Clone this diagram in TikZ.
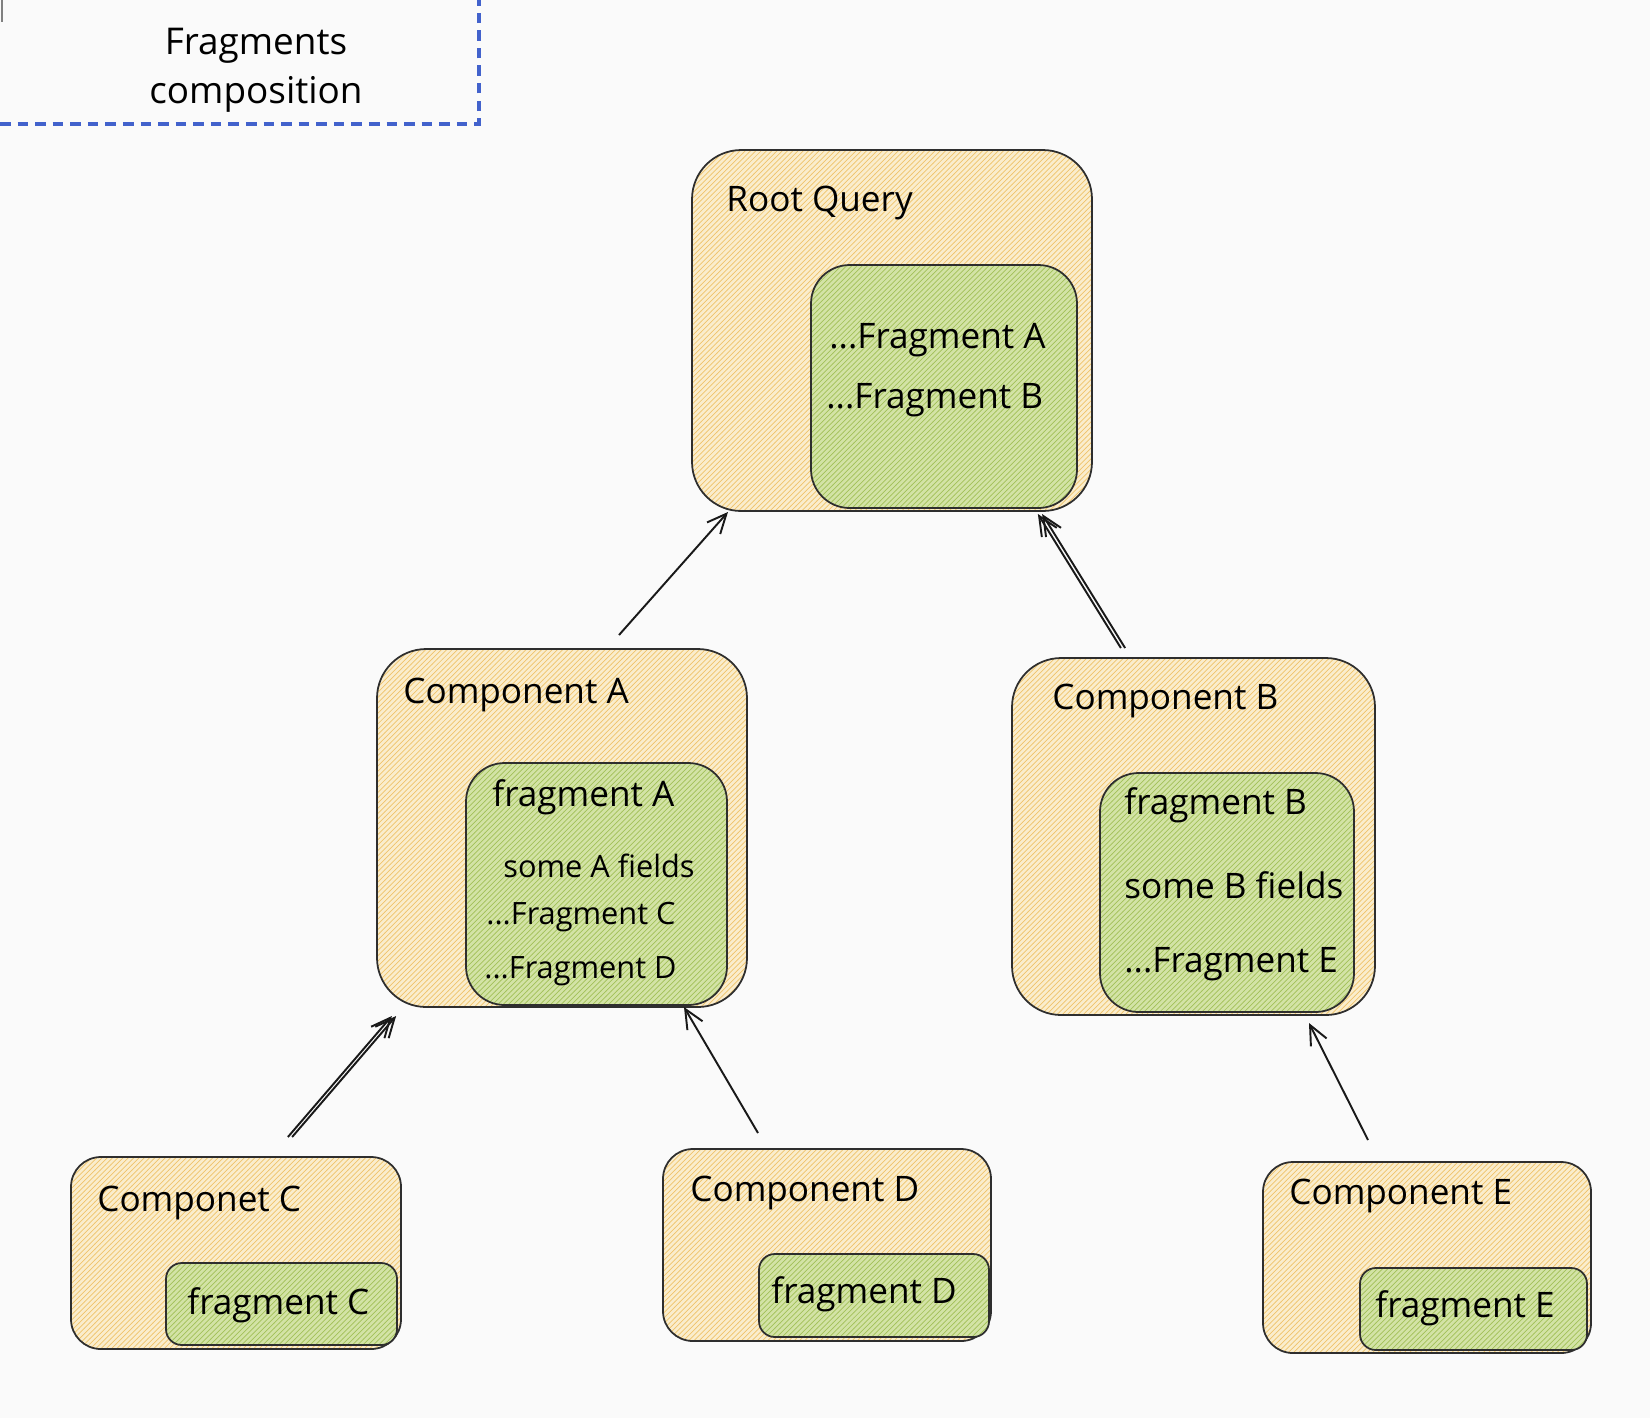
\documentclass[tikz,border=0pt]{standalone}
\usepackage{fontspec}
\setmainfont{Open Sans}
\usepackage{tikz}
\usetikzlibrary{arrows.meta,patterns,fit}

\definecolor{paper}{HTML}{FAFAFA}
\definecolor{boxline}{HTML}{2E2E2E}
\definecolor{yellowbg}{HTML}{FAEDCD}
\definecolor{yellowhatch}{HTML}{EFC36A}
\definecolor{greenbg}{HTML}{D3E3A6}
\definecolor{greenhatch}{HTML}{A2C058}
\definecolor{titleblue}{HTML}{4262CC}

\tikzset{
    compbox/.style={draw=boxline, line width=1pt, inner sep=0pt,
        preaction={fill=yellowbg},
        preaction={pattern=north east lines, pattern color=yellowhatch}},
    fragbox/.style={draw=boxline, line width=1pt, inner sep=0pt,
        preaction={fill=greenbg},
        preaction={pattern=north east lines, pattern color=greenhatch}},
    lbl/.style={anchor=west, inner sep=0pt, font=\fontsize{20}{24}\selectfont},
    smalllbl/.style={lbl, font=\fontsize{17.5}{21}\selectfont},
    arr/.style={-{Straight Barb[length=11pt,width=10pt]}, line width=1.1pt, black!90},
}

\begin{document}
\begin{tikzpicture}[x=0.02cm,y=-0.02cm]
        % Canvas
        \fill[paper] (0,0) rectangle (1650,1418);
        \useasboundingbox (0,0) rectangle (1650,1418);

        % Title frame
        \draw[titleblue, line width=2.2pt, dash pattern=on 6pt off 4pt] (0,124) -- (479,124) -- (479,0);
        \draw[gray, line width=0.6pt] (2,0) -- (2,22);
        \node[align=center, font=\fontsize{21}{28}\selectfont] (title) at (256,70) {Fragments\\composition};

        % Root query
        \node[compbox, rounded corners=28pt, fit={(692,150) (1092,511)}] (root) {};
        \node[fragbox, rounded corners=22pt, fit={(811,265) (1077,508)}] (rootfrag) {};
        \node[lbl] (rootlbl) at (726,203) {Root Query};
        \node[lbl] (rootfa) at (829,340) {...Fragment A};
        \node[lbl] (rootfb) at (826,400) {...Fragment B};

        % Component A
        \node[compbox, rounded corners=28pt, fit={(377,649) (747,1007)}] (compA) {};
        \node[fragbox, rounded corners=22pt, fit={(466,763) (727,1005)}] (fragA) {};
        \node[lbl] (compAlbl) at (403,695) {Component A};
        \node[lbl] (fragAlbl) at (492,797) {fragment A};
        \node[smalllbl] (fieldsA) at (503,866) {some A fields};
        \node[smalllbl] (spreadC) at (486,917) {...Fragment C};
        \node[smalllbl] (spreadD) at (484,971) {...Fragment D};

        % Component B
        \node[compbox, rounded corners=28pt, fit={(1012,658) (1375,1015)}] (compB) {};
        \node[fragbox, rounded corners=22pt, fit={(1100,773) (1354,1012)}] (fragB) {};
        \node[lbl] (compBlbl) at (1052,701) {Component B};
        \node[lbl] (fragBlbl) at (1124,805) {fragment B};
        \node[lbl] (fieldsB) at (1124,885) {some B fields};
        \node[lbl] (spreadE) at (1124,964) {...Fragment E};

        % Leaf components
        \node[compbox, rounded corners=17pt, fit={(71,1157) (401,1349)}] (compC) {};
        \node[fragbox, rounded corners=9pt, fit={(166,1263) (397,1345)}] (fragC) {};
        \node[lbl] (compClbl) at (97,1203) {Componet C};
        \node[lbl] (fragClbl) at (187,1305) {fragment C};

        \node[compbox, rounded corners=17pt, fit={(663,1149) (991,1341)}] (compD) {};
        \node[fragbox, rounded corners=9pt, fit={(759,1254) (989,1337)}] (fragD) {};
        \node[lbl] (compDlbl) at (690,1193) {Component D};
        \node[lbl] (fragDlbl) at (771,1294) {fragment D};

        \node[compbox, rounded corners=17pt, fit={(1263,1162) (1591,1353)}] (compE) {};
        \node[fragbox, rounded corners=9pt, fit={(1360,1268) (1587,1350)}] (fragE) {};
        \node[lbl] (compElbl) at (1289,1196) {Component E};
        \node[lbl] (fragElbl) at (1375,1308) {fragment E};

        % Arrow ends
        \coordinate (AtoRoot) at (619,635);
        \coordinate (rootInA) at (728,512);
        \coordinate (BtoRoot) at (1123,648);
        \coordinate (rootInB) at (1040,514);
        \coordinate (CtoA) at (290,1137);
        \coordinate (AinC) at (394,1016);
        \coordinate (DtoA) at (758,1133);
        \coordinate (AinD) at (684,1007);
        \coordinate (EtoB) at (1368,1140);
        \coordinate (BinE) at (1309,1023);

        % Arrows
        \draw[arr] (AtoRoot) -- (rootInA);
        \foreach \s in {-1.2,1.2}
            \draw[arr, transform canvas={xshift=\s pt}] (BtoRoot) -- (rootInB);
        \foreach \s in {-1.2,1.2}
            \draw[arr, transform canvas={xshift=\s pt}] (CtoA) -- (AinC);
        \draw[arr] (DtoA) -- (AinD);
        \draw[arr] (EtoB) -- (BinE);
\end{tikzpicture}
\end{document}
